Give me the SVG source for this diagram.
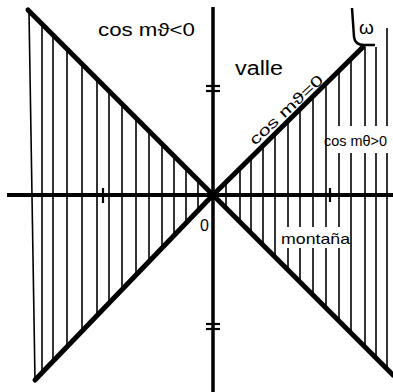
<svg xmlns="http://www.w3.org/2000/svg" width="393" height="392" viewBox="0 0 393 392">
<style>
.hatch{stroke:#000;stroke-width:1.6;fill:none}
.axis{stroke:#000;stroke-width:4;fill:none}
.diag{stroke:#000;stroke-width:5;stroke-linecap:round;fill:none}
.tick{stroke:#000;stroke-width:2.2;fill:none}
text{font-family:"Liberation Sans","DejaVu Sans",sans-serif;fill:#000}
</style>
<rect width="393" height="392" fill="#fff"/>
<g id="hatching">
<line class="hatch" x1="29" y1="12" x2="35" y2="380"/>
<line class="hatch" x1="42" y1="24" x2="42" y2="373"/>
<line class="hatch" x1="53" y1="35" x2="53" y2="361"/>
<line class="hatch" x1="67" y1="49" x2="67" y2="347"/>
<line class="hatch" x1="82" y1="64" x2="82" y2="331"/>
<line class="hatch" x1="97" y1="79" x2="97" y2="316"/>
<line class="hatch" x1="109" y1="91" x2="109" y2="303"/>
<line class="hatch" x1="122" y1="104" x2="122" y2="290"/>
<line class="hatch" x1="136" y1="118" x2="136" y2="275"/>
<line class="hatch" x1="149" y1="131" x2="149" y2="262"/>
<line class="hatch" x1="162" y1="144" x2="162" y2="248"/>
<line class="hatch" x1="174" y1="156" x2="174" y2="236"/>
<line class="hatch" x1="186" y1="168" x2="186" y2="223"/>
<line class="hatch" x1="198" y1="180" x2="198" y2="211"/>
<line class="hatch" x1="226" y1="182" x2="226" y2="208"/>
<line class="hatch" x1="240" y1="168" x2="240" y2="222"/>
<line class="hatch" x1="251" y1="157" x2="251" y2="233"/>
<line class="hatch" x1="263" y1="146" x2="263" y2="245"/>
<line class="hatch" x1="275" y1="134" x2="275" y2="257"/>
<line class="hatch" x1="288" y1="121" x2="288" y2="227"/>
<line class="hatch" x1="288" y1="248" x2="288" y2="270"/>
<line class="hatch" x1="300" y1="109" x2="300" y2="227"/>
<line class="hatch" x1="300" y1="248" x2="300" y2="282"/>
<line class="hatch" x1="313" y1="96" x2="313" y2="227"/>
<line class="hatch" x1="313" y1="248" x2="313" y2="295"/>
<line class="hatch" x1="326" y1="84" x2="326" y2="227"/>
<line class="hatch" x1="326" y1="248" x2="326" y2="308"/>
<line class="hatch" x1="339" y1="71" x2="339" y2="126"/>
<line class="hatch" x1="339" y1="153" x2="339" y2="227"/>
<line class="hatch" x1="339" y1="248" x2="339" y2="321"/>
<line class="hatch" x1="351" y1="59" x2="351" y2="126"/>
<line class="hatch" x1="351" y1="153" x2="351" y2="333"/>
<line class="hatch" x1="365" y1="47" x2="365" y2="126"/>
<line class="hatch" x1="365" y1="153" x2="365" y2="347"/>
<line class="hatch" x1="376" y1="47" x2="376" y2="126"/>
<line class="hatch" x1="376" y1="153" x2="376" y2="358"/>
<line class="hatch" x1="387" y1="28" x2="387" y2="126"/>
<line class="hatch" x1="387" y1="153" x2="387" y2="369"/>
</g>
<g id="axes">
<line class="axis" x1="7" y1="195" x2="393" y2="195"/>
<line class="axis" x1="213" y1="7" x2="213" y2="392" style="stroke-width:3.5"/>
</g>
<g id="ticks">
<line class="tick" x1="206" y1="86" x2="220" y2="86"/>
<line class="tick" x1="206" y1="91" x2="220" y2="91"/>
<line class="tick" x1="206" y1="324" x2="220" y2="324"/>
<line class="tick" x1="206" y1="329" x2="220" y2="329"/>
<line class="tick" x1="103" y1="188" x2="103" y2="203"/>
<line class="tick" x1="330" y1="188" x2="330" y2="202"/>
</g>
<g id="connectors">
<line class="diag" x1="28" y1="10" x2="213" y2="195"/>
<line class="diag" x1="213" y1="195" x2="35" y2="380"/>
<line class="diag" x1="213" y1="195" x2="363" y2="47"/>
<line class="diag" x1="213" y1="195" x2="393" y2="375"/>
<path d="M352,8 L354,37 Q355,45 364,45 L375,45" fill="none" stroke="#000" stroke-width="2.5"/>
</g>
<g id="labels">
<text x="98" y="36" font-size="19" textLength="97" lengthAdjust="spacingAndGlyphs">cos mϑ&lt;0</text>
<text x="235" y="75" font-size="20" textLength="48" lengthAdjust="spacingAndGlyphs">valle</text>
<text transform="translate(255,146) rotate(-43)" font-size="15" textLength="95" lengthAdjust="spacingAndGlyphs">cos mϑ=0</text>
<text x="324" y="146" font-size="15" textLength="63" lengthAdjust="spacingAndGlyphs">cos mθ&gt;0</text>
<text x="281" y="244" font-size="15" textLength="69" lengthAdjust="spacingAndGlyphs">montaña</text>
<text x="359" y="34" font-size="19">ω</text>
<text x="200" y="231" font-size="16">0</text>
</g>
</svg>
